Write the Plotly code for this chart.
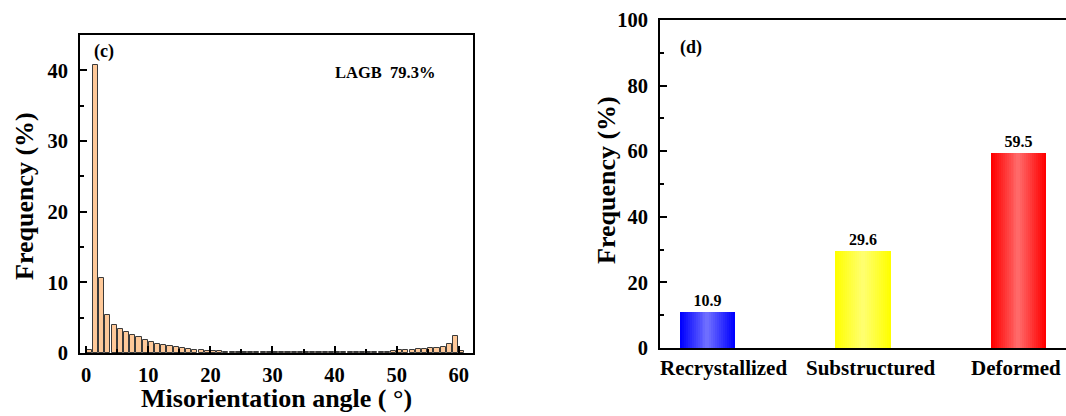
import plotly.graph_objects as go

# ---------------- data ----------------
# (c) misorientation angle histogram, bin centres (degrees) and frequency (%)
angle_bins = [i + 0.5 for i in range(61)]
angle_freq = [
    0.4, 40.8, 10.6, 5.4, 4.0, 3.4, 3.0, 2.6, 2.2, 1.85,
    1.6, 1.3, 1.1, 0.95, 0.8, 0.66, 0.57, 0.47, 0.4, 0.3,
    0.25, 0.22, 0.2, 0.18, 0.16, 0.15, 0.14, 0.13, 0.12, 0.12,
    0.11, 0.11, 0.1, 0.1, 0.1, 0.1, 0.1, 0.1, 0.1, 0.1,
    0.1, 0.11, 0.12, 0.13, 0.14, 0.15, 0.17, 0.2, 0.2, 0.25,
    0.4, 0.4, 0.45, 0.5, 0.6, 0.7, 0.75, 0.9, 1.3, 2.4,
    0.3,
]
x_ticks_c = [0, 10, 20, 30, 40, 50, 60]
y_ticks_c = [0, 10, 20, 30, 40]
lagb_text = "LAGB  79.3%"

# (d) grain type fractions
grain_types = ["Recrystallized", "Substructured", "Deformed"]
grain_freq = [10.9, 29.6, 59.5]
y_ticks_d = [0, 20, 40, 60, 80, 100]

# ---------------- style ----------------
W, H = 1066, 416
FONT = "Liberation Serif, Times New Roman, serif"
edge_cols = [(0, 0, 255), (255, 255, 0), (255, 0, 0)]
centre_cols = [(110, 110, 255), (255, 255, 110), (255, 105, 105)]
cat_label_shift = [16, 8, -2]   # pixel offsets of category labels, as in the reference


def px_x(p):
    return p / W


def px_y(p):
    return 1 - p / H


def bfont(size):
    return dict(family=FONT, size=size, color="black", weight="bold")


fig = go.Figure()

# histogram (c)
fig.add_trace(go.Bar(
    x=angle_bins, y=angle_freq, width=0.82,
    marker=dict(color="#FFC999", line=dict(color="#3a3a3a", width=1)),
    xaxis="x", yaxis="y", showlegend=False,
))

# gradient bars (d): overlaid bars of decreasing width
N = 14
for k in range(N):
    t = k / (N - 1)
    cols = []
    for e, c in zip(edge_cols, centre_cols):
        rgb = tuple(round(e[j] + (c[j] - e[j]) * t) for j in range(3))
        cols.append("rgb(%d,%d,%d)" % rgb)
    w = 0.355 * (1 - k / N)
    fig.add_trace(go.Bar(
        x=grain_types, y=grain_freq, width=w,
        marker=dict(color=cols, line=dict(width=0)),
        xaxis="x2", yaxis="y2", showlegend=False,
        text=[f"{v:.1f}" for v in grain_freq] if k == 0 else None,
        textposition="outside" if k == 0 else None,
        textfont=bfont(16),
        cliponaxis=False,
    ))

axis_common = dict(
    showline=True, linecolor="black", linewidth=2, mirror=True,
    showgrid=False, zeroline=False, automargin=False,
    ticks="inside", tickcolor="black", tickwidth=1.5, ticklen=7,
    tickfont=bfont(20.5),
)
minor_c = dict(ticks="inside", dtick=5, tick0=0, ticklen=4, tickcolor="black", tickwidth=1.5)


def ann(text, x, y, size, angle=0):
    return dict(text=text, x=px_x(x), y=px_y(y), xref="paper", yref="paper",
                xanchor="center", yanchor="middle", textangle=angle,
                showarrow=False, font=bfont(size))


cat_anns = [
    dict(text=name, x=name, xref="x2", y=px_y(368), yref="paper",
         xanchor="center", yanchor="middle", xshift=sh,
         showarrow=False, font=bfont(21))
    for name, sh in zip(grain_types, cat_label_shift)
]

fig.update_layout(
    width=W, height=H,
    margin=dict(l=0, r=0, t=0, b=0, autoexpand=False),
    paper_bgcolor="white", plot_bgcolor="white",
    barmode="overlay", bargap=0,
    font=dict(family=FONT, color="black"),
    xaxis=dict(
        domain=[px_x(80), px_x(473)], anchor="y",
        range=[-1, 62.3], tickvals=x_ticks_c,
        minor=minor_c, ticklabelstandoff=2,
        **axis_common,
    ),
    yaxis=dict(
        domain=[px_y(353), px_y(35)], anchor="x",
        range=[0, 45], tickvals=y_ticks_c,
        minor=minor_c, ticklabelstandoff=6,
        **axis_common,
    ),
    xaxis2=dict(
        domain=[px_x(660), 1.0], anchor="y2",
        range=[-0.305, 2.306],
        showline=True, linecolor="black", linewidth=2, mirror=True,
        showgrid=False, zeroline=False, ticks="", automargin=False,
        showticklabels=False,
    ),
    yaxis2=dict(
        domain=[px_y(348), px_y(20)], anchor="x2",
        range=[0, 100], tickvals=y_ticks_d,
        minor=dict(ticks="inside", dtick=10, tick0=0, ticklen=4, tickcolor="black", tickwidth=1.5),
        ticklabelstandoff=6,
        **axis_common,
    ),
    annotations=[
        ann("Frequency (%)", 24, 196, 26, -90),
        ann("Misorientation angle ( °)", 276, 398, 26),
        ann("(c)", 104, 51, 18),
        ann(lagb_text, 385, 73, 16.5),
        ann("Frequency (%)", 606, 180, 26, -90),
        ann("(d)", 691, 47, 18),
    ] + cat_anns,
)

fig.write_html(
    "out.html",
    config={"displayModeBar": False},
    post_script="document.body.style.margin='0';document.body.style.overflow='hidden';",
)
